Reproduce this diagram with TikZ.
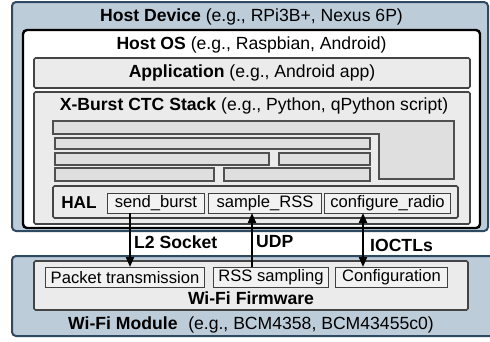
\documentclass[tikz,border=0pt]{standalone}
\usepackage{fontspec}
\setmainfont{Liberation Sans}
\usetikzlibrary{arrows.meta}
\definecolor{modfill}{HTML}{BDCCD9}
\definecolor{modline}{HTML}{2E4A62}
\definecolor{gfill}{HTML}{EBEBEB}
\definecolor{gline}{HTML}{505050}
\definecolor{bfill}{HTML}{F2F2F2}
\begin{document}
\begin{tikzpicture}[x=1pt,y=-1pt,
  every node/.style={font=\fontsize{16.6}{18}\selectfont, inner sep=0pt},
  hdr/.style={font=\fontsize{17.6}{19}\selectfont},
  module/.style={draw=modline, fill=modfill, line width=2pt, rounded corners=4pt},
  osbox/.style={draw=black, fill=white, line width=2.4pt, rounded corners=4pt},
  layer/.style={draw=gline!85!black, fill=gfill, line width=1.6pt, rounded corners=1.5pt},
  blk/.style={draw=gline, fill=gfill!95!black, line width=1.8pt},
  fn/.style={draw=gline!80!black, fill=bfill, line width=1pt},
  conn/.style={line width=2pt, -{Triangle[width=8pt,length=10pt]}},
  lbl/.style={font=\fontsize{17.6}{19}\selectfont\bfseries, anchor=west}
]
\useasboundingbox (0,0) rectangle (490,341);
\begin{scope}
\clip (0,0) rectangle (490,341);
% outer modules
\draw[module] (12,2) rectangle (488,231);
\node[anchor=north west, minimum width=476pt, minimum height=229pt] (hostdev) at (12,2) {};
\node[hdr] (hostdevt) at (251.5,17) {\textbf{Host Device} (e.g., RPi3B+, Nexus 6P)};
\draw[osbox] (23,30) rectangle (480,228);
\node[anchor=north west, minimum width=457pt, minimum height=198pt] (hostos) at (23,30) {};
\node[hdr] (hostost) at (251.5,45) {\textbf{Host OS} (e.g., Raspbian, Android)};
\draw[layer] (34,58) rectangle (470,88);
\node[anchor=north west, minimum width=436pt, minimum height=30pt] (app) at (34,58) {};
\node[hdr] (appt) at (252,73) {\textbf{Application} (e.g., Android app)};
\draw[layer] (34,92) rectangle (470,224);
\node[anchor=north west, minimum width=436pt, minimum height=132pt] (ctc) at (34,92) {};
\node[hdr] (ctct) at (254,106) {\textbf{X-Burst CTC Stack} (e.g., Python, qPython script)};
% stack blocks
\draw[blk] (53,121) -- (454,121) -- (454,179) -- (379,179) -- (379,134) -- (53,134) -- cycle;
\draw[blk] (55,138) rectangle (370,149);
\draw[blk] (55,153) rectangle (269,165);
\draw[blk] (279,153) rectangle (370,165);
\draw[blk] (55,168) rectangle (214,181);
\draw[blk] (224,168) rectangle (370,181);
% HAL
\draw[layer] (53,186) rectangle (458,218);
\node[anchor=north west, minimum width=405pt, minimum height=32pt] (hal) at (53,186) {};
\node[hdr, font=\fontsize{17.2}{19}\selectfont\bfseries] (halt) at (79,202.5) {HAL};
\node[fn, anchor=north west, minimum width=97pt, minimum height=20pt] (sb) at (107,193) {send\_burst};
\node[fn, anchor=north west, minimum width=113pt, minimum height=20pt] (sr) at (208,193) {sample\_RSS};
\node[fn, anchor=north west, minimum width=126pt, minimum height=20pt] (cr) at (324,193) {configure\_radio};
% Wi-Fi module
\draw[module] (12,256) rectangle (500,336);
\node[anchor=north west, minimum width=478pt, minimum height=80pt] (wmod) at (12,256) {};
\draw[layer] (34,261) rectangle (468,310);
\node[anchor=north west, minimum width=434pt, minimum height=49pt] (fw) at (34,261) {};
\node[font=\fontsize{17.6}{19}\selectfont\bfseries] (fwt) at (251,298.5) {Wi-Fi Firmware};
\node[fn, anchor=north west, minimum width=159pt, minimum height=20pt] (pt) at (45,267) {Packet transmission};
\node[fn, anchor=north west, minimum width=115pt, minimum height=20pt] (rs) at (213,267) {RSS sampling};
\node[fn, anchor=north west, minimum width=112pt, minimum height=20pt] (cf) at (335,267) {Configuration};
\node[hdr] (wmodt) at (251,325) {\textbf{Wi-Fi Module}\,\, (e.g., BCM4358, BCM43455c0)};
\end{scope}
% connectors
\coordinate (a1) at (130,213);
\coordinate (a2) at (130,267);
\coordinate (b1) at (252,267);
\coordinate (b2) at (252,213);
\coordinate (c1) at (363,213);
\coordinate (c2) at (363,267);
\draw[conn] (a1) -- (a2);
\draw[conn] (b1) -- (b2);
\draw[conn, {Triangle[width=8pt,length=10pt]}-{Triangle[width=8pt,length=10pt]}] (c1) -- (c2);
\node[lbl] (l2) at (134,242) {L2 Socket};
\node[lbl] (udp) at (256,242) {UDP};
\node[lbl] (ioctl) at (370,245) {IOCTLs};
\end{tikzpicture}
\end{document}
